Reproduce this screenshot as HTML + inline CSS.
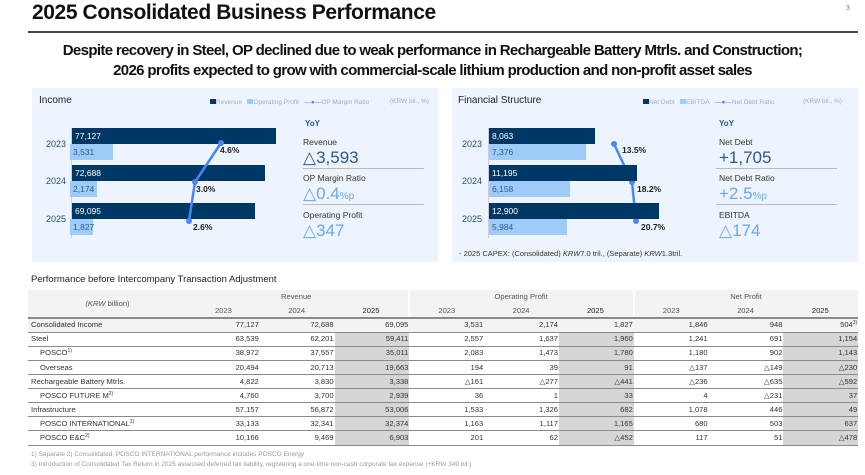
<!DOCTYPE html>
<html><head><meta charset="utf-8"><style>
*{margin:0;padding:0;box-sizing:border-box}
body{width:865px;height:475px;background:#fff;font-family:"Liberation Sans",sans-serif;position:relative;overflow:hidden;color:#222}
.a{position:absolute;white-space:nowrap}
.panel{position:absolute;background:#eef4fd;top:88px;height:174px;width:406px}
.bar{position:absolute;height:16px;color:#fff;font-size:8.5px;line-height:16px;padding-left:3px}
.d{background:#003764}
.l{background:#9fcbf8;color:#2a5d8f}
.yr{position:absolute;font-size:9px;color:#2a4f74}
.pct{position:absolute;font-size:8.5px;font-weight:bold;color:#222}
.lab{position:absolute;font-size:8.5px;color:#333}
.big{position:absolute;font-size:17px;color:#2a5a8a}
.big.lt{color:#6aa7f0}
.sep{position:absolute;height:1px;background:#bbb;width:121px}
table{position:absolute;left:28px;top:290px;width:830px;border-collapse:collapse;table-layout:fixed;font-size:7.6px;color:#333}
td{height:14.1px;text-align:right;padding:0 1px 0 0;border-bottom:1.5px solid #8a8a8a;line-height:10px;overflow:hidden;white-space:nowrap}
td:first-child{text-align:left;padding-left:3px}
td.s{background:#d6d6d6}
tr.h td{background:#f2f3f5;border-bottom:none;text-align:center;color:#555}
tr.h2 td{border-bottom:2px solid #8a8a8a}
tr.ci td{background:#f2f3f5}
.ind{padding-left:12px!important}
sup{font-size:5px;line-height:0;vertical-align:3px}
</style></head><body>
<div class="a" style="left:32px;top:1px;font-size:21px;font-weight:bold;letter-spacing:-0.4px;color:#111">2025 Consolidated Business Performance</div>
<div class="a" style="left:846px;top:5px;font-size:7px;color:#777">3</div>
<div class="a" style="left:28px;top:31px;width:830px;height:1.5px;background:#444"></div>
<div class="a" style="left:0;width:865px;top:41px;text-align:center;font-size:15px;font-weight:bold;letter-spacing:-0.65px;line-height:20px;color:#111">Despite recovery in Steel, OP declined due to weak performance in Rechargeable Battery Mtrls. and Construction;<br>2026 profits expected to grow with commercial-scale lithium production and non-profit asset sales</div>

<div class="panel" style="left:32px"></div>
<div class="panel" style="left:452px"></div>

<div class="a" style="left:39px;top:95px;font-size:10px;color:#222">Income</div>
<div class="a" style="left:210px;top:99px;font-size:6.5px;color:#aab"><span style="display:inline-block;width:6px;height:5px;background:#003764"></span>Revenue&nbsp;&nbsp;&nbsp;<span style="display:inline-block;width:6px;height:5px;background:#9fcbf8"></span>Operating Profit&nbsp;&nbsp;&nbsp;<span style="color:#4a86f0">—●—</span>OP Margin Ratio</div>
<div class="a" style="left:390px;top:98px;font-size:6.5px;color:#aab">(KRW bil., %)</div>
<div style="position:absolute;left:71px;top:128px;width:1px;height:110px;background:#ccd"></div>
<div class="bar d" style="left:72px;top:128px;width:204px">77,127</div>
<div class="bar l" style="left:70px;top:144px;width:43px">3,531</div>
<div class="bar d" style="left:72px;top:165px;width:193px">72,688</div>
<div class="bar l" style="left:70px;top:181px;width:27px">2,174</div>
<div class="bar d" style="left:72px;top:203px;width:183px">69,095</div>
<div class="bar l" style="left:70px;top:219px;width:23px">1,827</div>
<div class="yr" style="left:46px;top:139px">2023</div>
<div class="yr" style="left:46px;top:176px">2024</div>
<div class="yr" style="left:46px;top:214px">2025</div>
<svg class="a" style="left:0;top:0" width="865" height="475"><polyline points="221,143 195,182 189,221" fill="none" stroke="#4a86f0" stroke-width="2.5"/><circle cx="221" cy="143" r="3" fill="#4a86f0"/><circle cx="195" cy="182" r="3" fill="#4a86f0"/><circle cx="189" cy="221" r="3" fill="#4a86f0"/>
<polyline points="614,144 632,182 636,221" fill="none" stroke="#4a86f0" stroke-width="2.5"/><circle cx="614" cy="144" r="3" fill="#4a86f0"/><circle cx="632" cy="182" r="3" fill="#4a86f0"/><circle cx="636" cy="221" r="3" fill="#4a86f0"/></svg>
<div class="pct" style="left:220px;top:145px">4.6%</div>
<div class="pct" style="left:196px;top:184px">3.0%</div>
<div class="pct" style="left:193px;top:222px">2.6%</div>
<div class="a" style="left:305px;top:119px;font-size:8px;font-weight:bold;color:#2a5a8a">YoY</div>
<div class="lab" style="left:303px;top:137px">Revenue</div>
<div class="big" style="left:303px;top:148px">△3,593</div>
<div class="sep" style="left:303px;top:168px"></div>
<div class="lab" style="left:303px;top:173px">OP Margin Ratio</div>
<div class="big lt" style="left:303px;top:184px">△0.4<span style="font-size:10px">%p</span></div>
<div class="sep" style="left:303px;top:204px"></div>
<div class="lab" style="left:303px;top:210px">Operating Profit</div>
<div class="big lt" style="left:303px;top:221px">△347</div>

<div class="a" style="left:458px;top:95px;font-size:10px;color:#222">Financial Structure</div>
<div class="a" style="left:643px;top:99px;font-size:6.5px;color:#aab"><span style="display:inline-block;width:6px;height:5px;background:#003764"></span>Net Debt&nbsp;&nbsp;&nbsp;<span style="display:inline-block;width:6px;height:5px;background:#9fcbf8"></span>EBITDA&nbsp;&nbsp;&nbsp;<span style="color:#4a86f0">—●—</span>Net Debt Ratio</div>
<div class="a" style="left:803px;top:98px;font-size:6.5px;color:#aab">(KRW bil., %)</div>
<div style="position:absolute;left:488px;top:128px;width:1px;height:110px;background:#ccd"></div>
<div class="bar d" style="left:489px;top:128px;width:106px">8,063</div>
<div class="bar l" style="left:489px;top:144px;width:97px">7,376</div>
<div class="bar d" style="left:489px;top:165px;width:148px">11,195</div>
<div class="bar l" style="left:489px;top:181px;width:81px">6,158</div>
<div class="bar d" style="left:489px;top:203px;width:170px">12,900</div>
<div class="bar l" style="left:489px;top:219px;width:78px">5,984</div>
<div class="yr" style="left:462px;top:139px">2023</div>
<div class="yr" style="left:462px;top:176px">2024</div>
<div class="yr" style="left:462px;top:214px">2025</div>
<div class="pct" style="left:622px;top:145px">13.5%</div>
<div class="pct" style="left:637px;top:184px">18.2%</div>
<div class="pct" style="left:641px;top:222px">20.7%</div>
<div class="a" style="left:719px;top:119px;font-size:8px;font-weight:bold;color:#2a5a8a">YoY</div>
<div class="lab" style="left:719px;top:137px">Net Debt</div>
<div class="big" style="left:719px;top:148px">+1,705</div>
<div class="sep" style="left:716px;top:168px"></div>
<div class="lab" style="left:719px;top:173px">Net Debt Ratio</div>
<div class="big lt" style="left:719px;top:184px">+2.5<span style="font-size:10px">%p</span></div>
<div class="sep" style="left:716px;top:204px"></div>
<div class="lab" style="left:719px;top:210px">EBITDA</div>
<div class="big lt" style="left:719px;top:221px">△174</div>
<div class="a" style="left:459px;top:249px;font-size:7.5px;color:#333">- 2025 CAPEX: (Consolidated) <i>KRW</i>7.0 tril., (Separate) <i>KRW</i>1.3tril.</div>

<div class="a" style="left:31px;top:274px;font-size:9.5px;color:#222">Performance before Intercompany Transaction Adjustment</div>
<table>
<colgroup><col style="width:157px"><col span="9" style="width:74.8px"></colgroup>
<tr class="h"><td rowspan="2" style="text-align:center;border-bottom:2px solid #8a8a8a"><i>(KRW</i> billion)</td><td colspan="3" style="border-right:2px solid #fff">Revenue</td><td colspan="3" style="border-right:2px solid #fff">Operating Profit</td><td colspan="3">Net Profit</td></tr>
<tr class="h h2"><td>2023</td><td>2024</td><td style="border-right:2px solid #fff;color:#222">2025</td><td>2023</td><td>2024</td><td style="border-right:2px solid #fff;color:#222">2025</td><td>2023</td><td>2024</td><td style="color:#222">2025</td></tr>
<tr class="ci"><td>Consolidated Income</td><td>77,127</td><td>72,688</td><td>69,095</td><td>3,531</td><td>2,174</td><td>1,827</td><td>1,846</td><td>948</td><td>504<sup>3)</sup></td></tr>
<tr><td>Steel</td><td>63,539</td><td>62,201</td><td class="s">59,411</td><td>2,557</td><td>1,637</td><td class="s">1,960</td><td>1,241</td><td>691</td><td class="s">1,154</td></tr>
<tr><td class="ind">POSCO<sup>1)</sup></td><td>38,972</td><td>37,557</td><td class="s">35,011</td><td>2,083</td><td>1,473</td><td class="s">1,780</td><td>1,180</td><td>902</td><td class="s">1,143</td></tr>
<tr><td class="ind">Overseas</td><td>20,494</td><td>20,713</td><td class="s">19,663</td><td>194</td><td>39</td><td class="s">91</td><td>△137</td><td>△149</td><td class="s">△230</td></tr>
<tr><td>Rechargeable Battery Mtrls.</td><td>4,822</td><td>3,830</td><td class="s">3,338</td><td>△161</td><td>△277</td><td class="s">△441</td><td>△236</td><td>△635</td><td class="s">△592</td></tr>
<tr><td class="ind">POSCO FUTURE M<sup>2)</sup></td><td>4,760</td><td>3,700</td><td class="s">2,939</td><td>36</td><td>1</td><td class="s">33</td><td>4</td><td>△231</td><td class="s">37</td></tr>
<tr><td>Infrastructure</td><td>57,157</td><td>56,872</td><td class="s">53,006</td><td>1,533</td><td>1,326</td><td class="s">682</td><td>1,078</td><td>446</td><td class="s">49</td></tr>
<tr><td class="ind">POSCO INTERNATIONAL<sup>2)</sup></td><td>33,133</td><td>32,341</td><td class="s">32,374</td><td>1,163</td><td>1,117</td><td class="s">1,165</td><td>680</td><td>503</td><td class="s">637</td></tr>
<tr><td class="ind">POSCO E&amp;C<sup>2)</sup></td><td>10,166</td><td>9,469</td><td class="s">6,903</td><td>201</td><td>62</td><td class="s">△452</td><td>117</td><td>51</td><td class="s">△478</td></tr>
</table>
<div class="a" style="left:31px;top:451px;font-size:6.5px;color:#999">1) Separate 2) Consolidated, POSCO INTERNATIONAL performance includes POSCO Energy</div>
<div class="a" style="left:31px;top:461px;font-size:6.5px;color:#999">3) Introduction of Consolidated Tax Return in 2025 assessed deferred tax liability, registering a one-time non-cash corporate tax expense (+KRW 349 bil.)</div>
</body></html>
